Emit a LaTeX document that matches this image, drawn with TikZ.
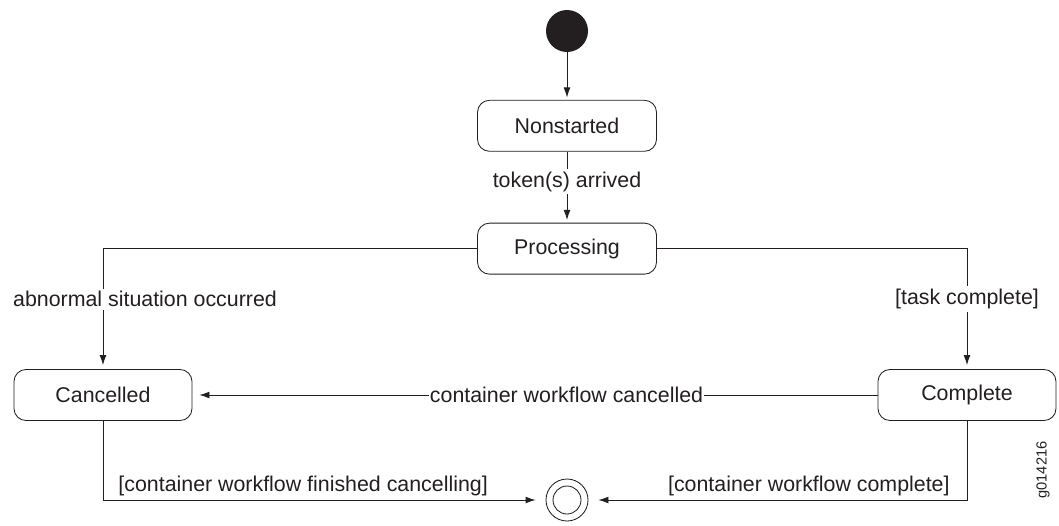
\documentclass[tikz,border=0pt]{standalone}
\usepackage{fontspec}
\setmainfont{Liberation Sans}
\usetikzlibrary{arrows.meta,positioning,calc}
\definecolor{Ink}{HTML}{231F20}

\begin{document}
\begin{tikzpicture}[>=Latex,node distance=1.2cm]
    \tikzset{
      state/.style={rounded corners=0.3cm,minimum width=4.475cm,minimum height=1.275cm,
                    draw=Ink,line width=0.6pt,font=\fontsize{15.2}{18}\selectfont,text=Ink},
      initial/.style={circle,fill=Ink,minimum size=1.05cm,inner sep=0pt},
      final/.style={circle,draw=Ink,line width=0.6pt,minimum size=1.05cm,inner sep=0pt,
                    path picture={\draw[Ink,line width=0.6pt]
                      (path picture bounding box.center) circle (0.35cm);}},
      flow/.style={-{Latex[length=0.25cm,width=0.17cm]},line width=0.6pt,draw=Ink,shorten >=0.1cm},
      guard/.style={fill=white,inner xsep=1pt,inner ysep=2pt,font=\fontsize{15.2}{18}\selectfont,text=Ink},
      note/.style={guard,fill=none}
    }
    \useasboundingbox (0,0) rectangle (26.475,-13.125);
    % states
    \node[initial] (start) at (14.175,-0.775) {};
    \node[state,below=1.19cm of start] (nonstarted) {Nonstarted};
    \node[state,below=1.775cm of nonstarted] (processing) {Processing};
    \node[state,minimum width=4.45cm] (cancelled) at (2.575,-9.875) {Cancelled};
    \node[state,minimum width=4.45cm] (complete) at (24.175,-9.875) {Complete};
    \node[final] (done) at (14.175,-12.5) {};
    % transitions
    \draw[flow,shorten >=0.06cm] (start) -- (nonstarted);
    \draw[flow,shorten >=0.07cm] (nonstarted) -- node[guard,pos=0.42] {token(s) arrived} (processing);
    \draw[flow] (processing.west) -| node[guard,pos=0.71,xshift=1.05cm] {abnormal situation occurred} (cancelled.north);
    \draw[flow] (processing.east) -| node[guard,pos=0.71] {[task complete]} (complete.north);
    \draw[flow,shorten >=0.175cm] (complete.west) -- node[guard,pos=0.454,inner xsep=0.5pt] {container workflow cancelled} (cancelled.east);
    \draw[flow,shorten >=0.25cm] (cancelled.south) |- node[note,pos=0.5,anchor=base west,xshift=0.34cm,yshift=0.225cm]
      {[container workflow finished cancelling]} (done.west);
    \draw[flow,shorten >=0.25cm] (complete.south) |- node[note,pos=0.5,anchor=base east,xshift=-0.39cm,yshift=0.225cm]
      {[container workflow complete]} (done.east);
    \node[rotate=90,font=\fontsize{10.4}{12}\selectfont,text=Ink] (figid) at (26.075,-11.75) {g014216};
\end{tikzpicture}
\end{document}
